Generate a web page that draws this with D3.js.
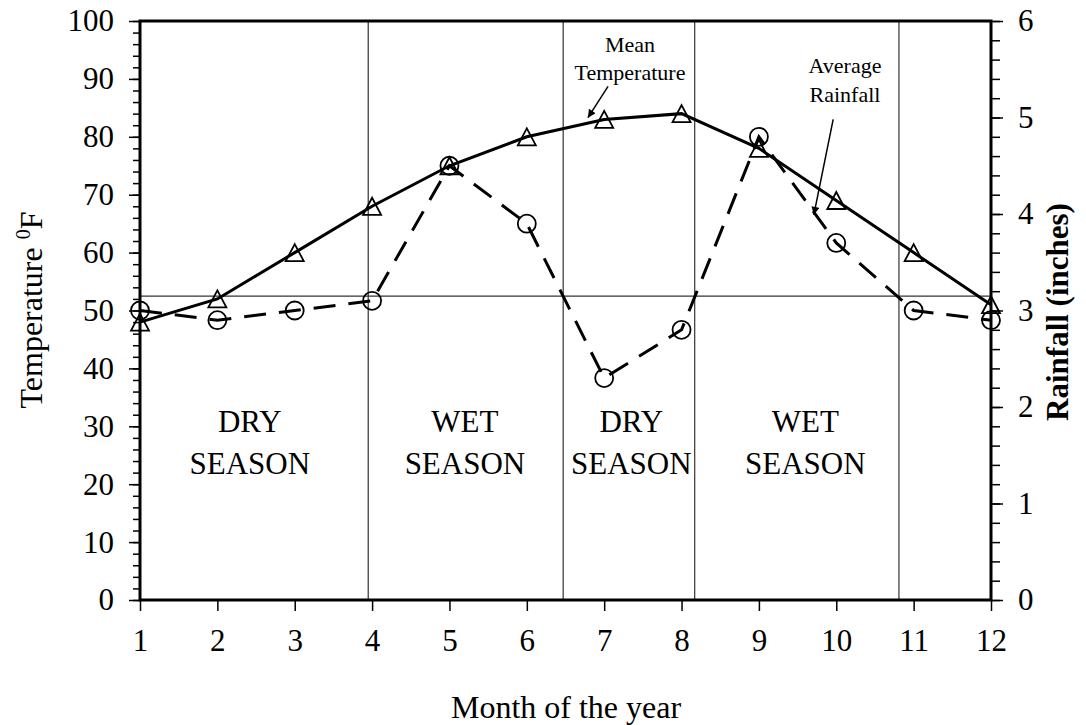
<!DOCTYPE html>
<html>
<head>
<meta charset="utf-8">
<script src="https://cdn.jsdelivr.net/npm/d3@7"></script>
<style>
  body { margin: 0; background: #fff; }
  svg text { font-family: "Liberation Serif", "Times New Roman", serif; fill: #000; }
</style>
</head>
<body>
<svg id="chart" width="1086" height="725"></svg>
<script>
// Monthly mean temperature (left axis) and average rainfall (right axis)
let months = [1, 2, 3, 4, 5, 6, 7, 8, 9, 10, 11, 12];
let temperature = [48, 52, 60, 68, 75, 80, 83, 84, 78, 69, 60, 51];
let rainfall = [3.0, 2.9, 3.0, 3.1, 4.5, 3.9, 2.3, 2.8, 4.8, 3.7, 3.0, 2.9];

let tempTicks = [0, 10, 20, 30, 40, 50, 60, 70, 80, 90, 100];
let rainTicks = [0, 1, 2, 3, 4, 5, 6];

// season boundaries (month units) and the horizontal reference (deg F)
let seasonBounds = [3.95, 6.47, 8.17, 10.81];
let refTemp = 52.5;

let seasonNames = ["DRY", "WET", "DRY", "WET"];
let seasonCentres = [2.42, 5.2, 7.35, 9.6];

let svg = d3.select("#chart");
let plotLeft = 140, plotRight = 991, plotTop = 21, plotBottom = 600;

let x = d3.scaleLinear().domain([1, 12]).range([plotLeft, plotRight]);
let yT = d3.scaleLinear().domain([0, 100]).range([plotBottom, plotTop]);
let yR = d3.scaleLinear().domain([0, 6]).range([plotBottom, plotTop]);

// arrow marker
svg.append("defs").append("marker")
    .attr("id", "arrow")
    .attr("viewBox", "0 0 10 10")
    .attr("refX", 10).attr("refY", 5)
    .attr("markerWidth", 10).attr("markerHeight", 8)
    .attr("markerUnits", "userSpaceOnUse")
    .attr("orient", "auto")
  .append("path")
    .attr("d", "M0,0 L10,5 L0,10 z")
    .attr("fill", "#000");

// reference lines
svg.selectAll("line.season")
    .data(seasonBounds)
  .enter().append("line")
    .attr("class", "season")
    .attr("x1", d => x(d)).attr("x2", d => x(d))
    .attr("y1", plotTop).attr("y2", plotBottom)
    .attr("stroke", "#333").attr("stroke-width", 1.2);

svg.append("line")
    .attr("x1", plotLeft).attr("x2", plotRight)
    .attr("y1", yT(refTemp)).attr("y2", yT(refTemp))
    .attr("stroke", "#333").attr("stroke-width", 1.2);

// season labels
let seasons = svg.selectAll("text.season")
    .data(seasonNames)
  .enter().append("text")
    .attr("class", "season")
    .attr("text-anchor", "middle")
    .style("font-size", "31px");
seasons.append("tspan")
    .attr("x", (d, i) => x(seasonCentres[i]))
    .attr("y", 432)
    .text(d => d);
seasons.append("tspan")
    .attr("x", (d, i) => x(seasonCentres[i]))
    .attr("y", 474)
    .text("SEASON");

// axes
let axisFont = "31px";

svg.append("g").attr("transform", "translate(" + plotLeft + ",0)")
    .call(d3.axisLeft(yT).tickValues(d3.range(0, 101, 2)).tickSize(7).tickFormat(""));
svg.append("g").attr("transform", "translate(" + plotLeft + ",0)")
    .call(d3.axisLeft(yT).tickValues(tempTicks).tickSize(11).tickPadding(15))
    .selectAll("text").style("font-size", axisFont);

svg.append("g").attr("transform", "translate(" + plotRight + ",0)")
    .call(d3.axisRight(yR).tickValues(d3.range(0, 30.5, 1).map(d => d / 5)).tickSize(9).tickFormat(""));
svg.append("g").attr("transform", "translate(" + plotRight + ",0)")
    .call(d3.axisRight(yR).tickValues(rainTicks).tickSize(12).tickPadding(15).tickFormat(d3.format("d")))
    .selectAll("text").style("font-size", axisFont);

svg.append("g").attr("transform", "translate(0," + plotBottom + ")")
    .call(d3.axisBottom(x).tickValues(months).tickSize(11).tickPadding(18).tickFormat(d3.format("d")))
    .selectAll("text").style("font-size", axisFont);

svg.selectAll(".domain").remove();
svg.selectAll(".tick line").attr("stroke", "#000").attr("stroke-width", 1.5);

// frame
svg.append("rect")
    .attr("x", plotLeft).attr("y", plotTop)
    .attr("width", plotRight - plotLeft).attr("height", plotBottom - plotTop)
    .attr("fill", "none").attr("stroke", "#000").attr("stroke-width", 3);

// data lines
let tempData = months.map((m, i) => ({m: m, v: temperature[i]}));
let rainData = months.map((m, i) => ({m: m, v: rainfall[i]}));

svg.append("path")
    .datum(rainData)
    .attr("fill", "none").attr("stroke", "#000")
    .attr("stroke-width", 3).attr("stroke-dasharray", "22,13")
    .attr("d", d3.line().x(d => x(d.m)).y(d => yR(d.v)));

svg.append("path")
    .datum(tempData)
    .attr("fill", "none").attr("stroke", "#000").attr("stroke-width", 3)
    .attr("d", d3.line().x(d => x(d.m)).y(d => yT(d.v)));

svg.selectAll("circle.rain")
    .data(rainData)
  .enter().append("circle")
    .attr("class", "rain")
    .attr("cx", d => x(d.m)).attr("cy", d => yR(d.v))
    .attr("r", 9)
    .attr("fill", "none").attr("stroke", "#000").attr("stroke-width", 1.8);

svg.selectAll("path.temp")
    .data(tempData)
  .enter().append("path")
    .attr("class", "temp")
    .attr("transform", d => "translate(" + x(d.m) + "," + yT(d.v) + ")")
    .attr("d", "M0,-8.5 L9,8.5 L-9,8.5 Z")
    .attr("fill", "none").attr("stroke", "#000").attr("stroke-width", 1.8);

// annotations
let noteFont = "22px";
let mean = svg.append("text").attr("text-anchor", "middle").style("font-size", noteFont);
mean.append("tspan").attr("x", 630).attr("y", 52).text("Mean");
mean.append("tspan").attr("x", 630).attr("y", 80).text("Temperature");
svg.append("line")
    .attr("x1", x(7.05)).attr("y1", yT(88.7))
    .attr("x2", x(6.79)).attr("y2", yT(83.3))
    .attr("stroke", "#000").attr("stroke-width", 1.5)
    .attr("marker-end", "url(#arrow)");

let avg = svg.append("text").attr("text-anchor", "middle").style("font-size", noteFont);
avg.append("tspan").attr("x", 845).attr("y", 73).text("Average");
avg.append("tspan").attr("x", 845).attr("y", 102).text("Rainfall");
svg.append("line")
    .attr("x1", x(9.96)).attr("y1", yT(83.0))
    .attr("x2", x(9.71)).attr("y2", yT(66.5))
    .attr("stroke", "#000").attr("stroke-width", 1.5)
    .attr("marker-end", "url(#arrow)");

// axis titles
let tTitle = svg.append("text")
    .attr("transform", "translate(42," + 310 + ") rotate(-90)")
    .attr("text-anchor", "middle")
    .style("font-size", "32px");
tTitle.append("tspan").text("Temperature ");
tTitle.append("tspan").attr("dy", -12).style("font-size", "20px").text("0");
tTitle.append("tspan").attr("dy", 12).text("F");

svg.append("text")
    .attr("transform", "translate(1068," + 312 + ") rotate(-90)")
    .attr("text-anchor", "middle")
    .style("font-size", "31px").style("font-weight", "bold")
    .text("Rainfall (inches)");

svg.append("text")
    .attr("x", 566).attr("y", 718)
    .attr("text-anchor", "middle")
    .style("font-size", "32px")
    .text("Month of the year");
</script>
</body>
</html>
